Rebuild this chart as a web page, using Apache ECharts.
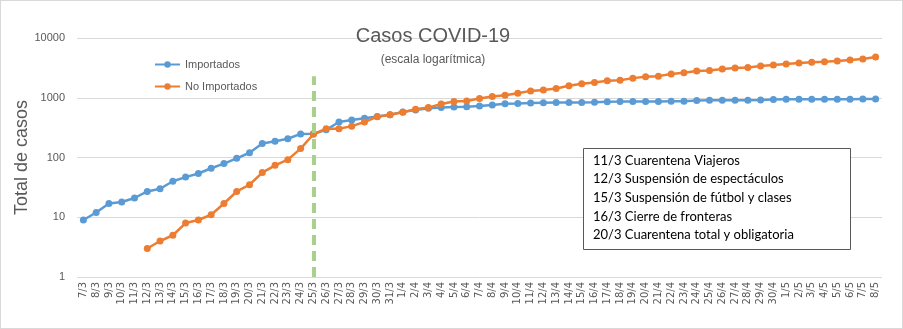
<!DOCTYPE html>
<html>
<head>
<meta charset="utf-8">
<script src="https://cdn.jsdelivr.net/npm/echarts@6/dist/echarts.min.js"></script>
<style>
html,body{margin:0;padding:0;background:#fff;}
#wrap{width:903px;height:329px;box-sizing:border-box;border:1px solid #d9d9d9;position:relative;}
#chart{position:absolute;left:-1px;top:-1px;width:903px;height:329px;}
</style>
</head>
<body>
<div id="wrap"><div id="chart"></div></div>
<script>
const dates = ['7/3','8/3','9/3','10/3','11/3','12/3','13/3','14/3','15/3','16/3','17/3','18/3','19/3','20/3','21/3','22/3','23/3','24/3','25/3','26/3','27/3','28/3','29/3','30/3','31/3',
'1/4','2/4','3/4','4/4','5/4','6/4','7/4','8/4','9/4','10/4','11/4','12/4','13/4','14/4','15/4','16/4','17/4','18/4','19/4','20/4','21/4','22/4','23/4','24/4','25/4','26/4','27/4','28/4','29/4','30/4',
'1/5','2/5','3/5','4/5','5/5','6/5','7/5','8/5'];

const importados = [9,12,17,18,21,27,30,40,47,54,66,79,97,120,171,187,206,248,250,290,392,423,452,485,520,
580,623,666,690,700,705,728,756,790,800,820,828,830,832,835,840,860,862,865,867,868,870,872,900,905,907,910,912,915,935,
940,942,944,945,946,948,949,950];

const noImportados = [null,null,null,null,null,3,4,5,8,9,11,17,27,35,56,74,92,141,245,303,303,335,392,482,521,
570,640,684,787,863,883,968,1047,1102,1191,1303,1353,1429,1585,1708,1802,1918,1971,2130,2240,2300,2488,2618,2795,2871,3020,3140,3222,3390,3525,
3665,3806,3917,4008,4115,4276,4446,4809];

const yTicks = [1,10,100,1000,10000];
const markerDate = '25/3';
const markerTop = 2300;
const notes = ['11/3 Cuarentena Viajeros','12/3 Suspensión de espectáculos','15/3 Suspensión de fútbol y clases','16/3 Cierre de fronteras','20/3 Cuarentena total y obligatoria'];

const chart = echarts.init(document.getElementById('chart'));
const txt = '#595959';
const font = 'Liberation Sans';

const noteTexts = notes.map((t,i)=>({
  type:'text', left:593, top:154 + i*18.7,
  style:{text:t, fill:'#000', font:'13px Lato'}
}));

chart.setOption({
  backgroundColor:'transparent',
  animation:false,
  title:[
    {text:'Casos COVID-19', left:428, top:21, textAlign:'center',
     textStyle:{fontFamily:font, fontSize:20, fontWeight:'normal', color:txt}},
    {text:'(escala logarítmica)', left:428, top:49, textAlign:'center',
     textStyle:{fontFamily:font, fontSize:12, fontWeight:'normal', color:txt}}
  ],
  legend:{
    orient:'vertical', left:149, top:54, itemGap:11, itemWidth:25, itemHeight:8,
    textStyle:{fontFamily:font, fontSize:11, color:txt},
    data:['Importados','No Importados']
  },
  grid:{left:77, right:21, top:38, bottom:52},
  xAxis:{
    type:'category', data:dates, boundaryGap:true,
    axisLine:{show:false}, axisTick:{show:false},
    axisLabel:{rotate:90, interval:0, fontFamily:'DejaVu Sans', fontSize:10, color:txt, margin:5}
  },
  yAxis:{
    type:'log', logBase:10, min:1, max:10000,
    name:'Total de casos', nameLocation:'middle', nameGap:46, nameMoveOverlap:false,
    nameTextStyle:{fontFamily:font, fontSize:18, color:txt},
    axisLine:{show:false}, axisTick:{show:false},
    axisLabel:{fontFamily:font, fontSize:11, color:txt, margin:12, formatter:v=>String(Math.round(v))},
    splitLine:{lineStyle:{color:'#d9d9d9', width:1}}
  },
  series:[
    {name:'Importados', type:'line', data:importados, symbol:'circle', symbolSize:7,
     itemStyle:{color:'#5b9bd5'}, lineStyle:{color:'#5b9bd5', width:2.5}, z:3},
    {name:'No Importados', type:'line', data:noImportados, symbol:'circle', symbolSize:7,
     itemStyle:{color:'#ed7d31'}, lineStyle:{color:'#ed7d31', width:2.5}, z:4,
     markLine:{silent:true, symbol:'none', label:{show:false},
       lineStyle:{color:'#a9d18e', width:4, type:[10,6]},
       data:[[{coord:[markerDate,1]},{coord:[markerDate,markerTop]}]]}}
  ],
  graphic:[
    {type:'rect', shape:{x:583.5, y:148.5, width:267, height:101},
     style:{fill:'#fff', stroke:'#595959', lineWidth:1}, z:10},
    ...noteTexts.map(t=>Object.assign(t,{z:11}))
  ]
});
</script>
</body>
</html>
